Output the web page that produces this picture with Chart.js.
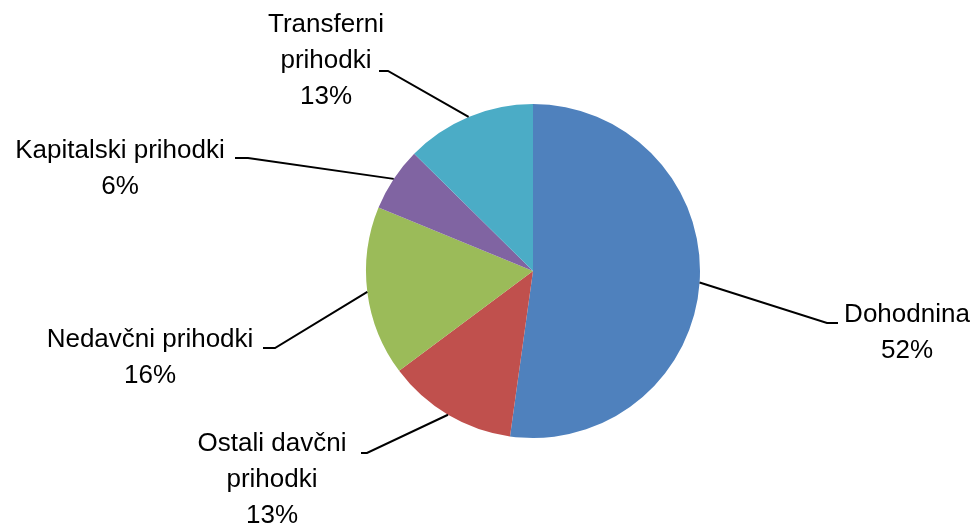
<!DOCTYPE html>
<html>
<head>
<meta charset="utf-8">
<script src="https://cdn.jsdelivr.net/npm/chart.js@4"></script>
<style>
  html, body { margin: 0; padding: 0; background: #fff; }
  #wrap { width: 976px; height: 527px; }
</style>
</head>
<body>
<div id="wrap"><canvas id="pie"></canvas></div>
<script>
const categories = ['Dohodnina', 'Ostali davčni prihodki', 'Nedavčni prihodki', 'Kapitalski prihodki', 'Transferni prihodki'];
const values = [52.2, 12.6, 16.4, 6.2, 12.6];
const labelLines = [['Dohodnina'], ['Ostali davčni', 'prihodki'], ['Nedavčni prihodki'], ['Kapitalski prihodki'], ['Transferni', 'prihodki']];
const colors = ['#4F81BD', '#C0504D', '#9BBB59', '#8064A2', '#4BACC6'];

// where each label sits and where its leader line bends
const labelPos = [
  { cx: 907, y: 315, elbow: [827, 323], endX: 838 },
  { cx: 272, y: 444, elbow: [367, 453], endX: 361 },
  { cx: 150, y: 340, elbow: [275, 348], endX: 263 },
  { cx: 120, y: 151, elbow: [248, 158], endX: 235 },
  { cx: 326, y: 25, elbow: [388, 71], endX: 379 }
];
const lineHeight = 36;

const calloutPlugin = {
  id: 'callouts',
  afterDatasetsDraw(chart) {
    const ctx = chart.ctx;
    const meta = chart.getDatasetMeta(0);
    const total = values.reduce((a, b) => a + b, 0);
    ctx.save();
    meta.data.forEach((arc, i) => {
      const p = arc.getProps(['x', 'y', 'startAngle', 'endAngle', 'outerRadius'], true);
      const mid = (p.startAngle + p.endAngle) / 2;
      const sx = p.x + Math.cos(mid) * p.outerRadius;
      const sy = p.y + Math.sin(mid) * p.outerRadius;
      const pos = labelPos[i];
      ctx.strokeStyle = '#000';
      ctx.lineWidth = 2;
      ctx.beginPath();
      ctx.moveTo(sx, sy);
      ctx.lineTo(pos.elbow[0], pos.elbow[1]);
      ctx.lineTo(pos.endX, pos.elbow[1]);
      ctx.stroke();

      const lines = labelLines[i].concat([Math.round(values[i] / total * 100) + '%']);
      ctx.fillStyle = '#000';
      ctx.font = '26px "Liberation Sans", Arial, sans-serif';
      ctx.textAlign = 'center';
      ctx.textBaseline = 'middle';
      lines.forEach((t, k) => ctx.fillText(t, pos.cx, pos.y + k * lineHeight));
    });
    ctx.restore();
  }
};

new Chart(document.getElementById('pie'), {
  type: 'pie',
  data: {
    labels: categories,
    datasets: [{
      data: values,
      backgroundColor: colors,
      borderWidth: 0
    }]
  },
  options: {
    responsive: true,
    maintainAspectRatio: false,
    animation: false,
    layout: { padding: { top: 104, bottom: 89, left: 366, right: 276 } },
    plugins: {
      legend: { display: false },
      tooltip: { enabled: false }
    }
  },
  plugins: [calloutPlugin]
});
</script>
</body>
</html>
